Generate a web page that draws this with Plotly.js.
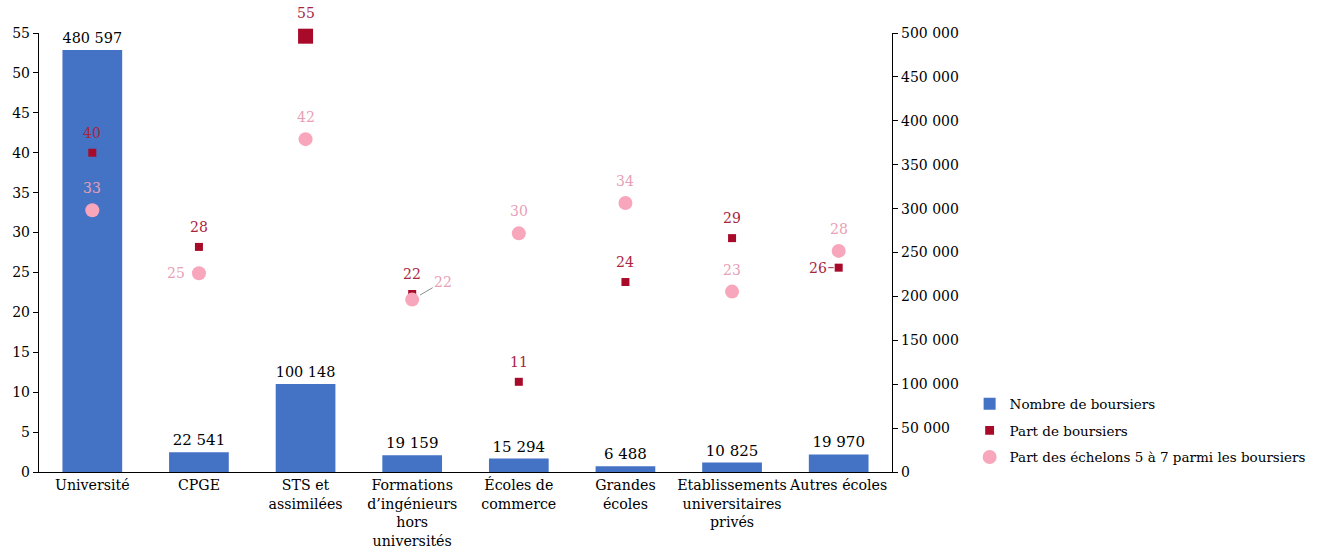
<!DOCTYPE html>
<html>
<head>
<meta charset="utf-8">
<script src="https://cdn.plot.ly/plotly-3.0.1.min.js"></script>
<style>
  html, body { margin: 0; padding: 0; background: #fff; }
  #chart { width: 1323px; height: 554px; }
</style>
</head>
<body>
<div id="chart"></div>
<script>
// Catégories de formation
const categories = [
  "Université", "CPGE", "STS et<br>assimilées",
  "Formations<br>d’ingénieurs<br>hors<br>universités",
  "Écoles de<br>commerce", "Grandes<br>écoles",
  "Etablissements<br>universitaires<br>privés", "Autres écoles"
];
// Nombre de boursiers (axe de droite)
const nombreBoursiers = [480597, 22541, 100148, 19159, 15294, 6488, 10825, 19970];
// Part de boursiers, en % (axe de gauche)
const partBoursiers = [40, 28.2, 54.6, 22.3, 11.3, 23.8, 29.3, 25.6];
// Part des échelons 5 à 7 parmi les boursiers, en % (axe de gauche)
const partEchelons = [32.8, 24.9, 41.7, 21.6, 29.9, 33.7, 22.6, 27.7];

const FONT = "DejaVu Serif, Liberation Serif, serif";
const FS = 14;
const BLUE = "#4472C4";
const RED = "#A80A2A";
const RED_TXT = "#A8243F";
const PINK = "#F8A6BC";
const PINK_TXT = "#E8A0B4";

const fmt = v => Math.round(v).toString();
const fmtInt = v => String(v).replace(/\B(?=(\d{3})+(?!\d))/g, " ");

const redSizes = partBoursiers.map((v, i) => i === 2 ? 15 : 8);

const traces = [
  {
    type: "bar", name: "Nombre de boursiers", legendgroup: "a",
    x: categories, y: nombreBoursiers, yaxis: "y",
    marker: { color: BLUE, line: { width: 0 } },
    width: 0.56,
    text: nombreBoursiers.map(fmtInt),
    textposition: "outside", cliponaxis: false,
    textfont: { family: FONT, size: 15, color: "#000" },
    hoverinfo: "skip"
  },
  {
    type: "scatter", mode: "markers", name: "Part de boursiers", legendgroup: "b",
    x: categories, y: partBoursiers, yaxis: "y2",
    marker: { symbol: "square", color: RED, size: redSizes, opacity: 1, line: { width: 0 } },
    cliponaxis: false, hoverinfo: "skip"
  },
  {
    type: "scatter", mode: "markers", name: "Part des échelons 5 à 7 parmi les boursiers", legendgroup: "c",
    x: categories, y: partEchelons, yaxis: "y2",
    marker: { symbol: "circle", color: PINK, size: 14, opacity: 1, line: { width: 0 } },
    cliponaxis: false, hoverinfo: "skip"
  }
];

// Placement des étiquettes de valeur (décalages en pixels)
const redPlace = [
  { dy: 20 }, { dy: 20 }, { dy: 23 }, { dy: 20 }, { dy: 20 }, { dy: 20 }, { dy: 20 },
  { arrow: true, ax: -21, ay: 0, standoff: 5 }
];
const pinkPlace = [
  { dy: 22 }, { dx: -23, dy: 0 }, { dy: 22 },
  { arrow: true, ax: 31, ay: -18, standoff: 9 },
  { dy: 22 }, { dy: 22 }, { dy: 22 }, { dy: 22 }
];

function labels(values, place, color, arrowColor) {
  return values.map((v, i) => {
    const p = place[i];
    const a = {
      x: categories[i], y: v, xref: "x", yref: "y2",
      text: fmt(v),
      font: { family: FONT, size: FS, color: color }
    };
    if (p.arrow) {
      Object.assign(a, {
        showarrow: true, arrowhead: 0, arrowwidth: 1, arrowcolor: arrowColor,
        ax: p.ax, ay: p.ay, standoff: p.standoff
      });
    } else {
      Object.assign(a, {
        showarrow: false, xanchor: "center", yanchor: "middle",
        xshift: p.dx || 0, yshift: p.dy || 0
      });
    }
    return a;
  });
}

const annotations = [
  ...labels(partBoursiers, redPlace, RED_TXT, RED_TXT),
  ...labels(partEchelons, pinkPlace, PINK_TXT, "#8c8c8c")
];

const layout = {
  width: 1323, height: 554,
  margin: { l: 39, r: 431, t: 33, b: 82, autoexpand: false },
  paper_bgcolor: "#fff", plot_bgcolor: "#fff",
  font: { family: FONT, size: FS, color: "#000" },
  separators: ", ",
  showlegend: true,
  legend: {
    x: 1.091, y: 0.19, xanchor: "left", yanchor: "top",
    font: { family: FONT, size: 13.5, color: "#000" },
    traceorder: "grouped", tracegroupgap: 6, itemwidth: 30
  },
  bargap: 0.44,
  xaxis: {
    type: "category",
    showline: true, linecolor: "#000", linewidth: 1.2,
    ticks: "", showgrid: false, zeroline: false,
    tickfont: { family: FONT, size: 14.2, color: "#000" },
    tickangle: 0
  },
  yaxis: {
    side: "right", range: [0, 500000], dtick: 50000, tick0: 0,
    tickformat: ",d",
    showline: true, linecolor: "#000", linewidth: 1.2,
    ticks: "outside", ticklen: 5, tickcolor: "#000",
    showgrid: false, zeroline: false,
    tickfont: { family: FONT, size: FS, color: "#000" }
  },
  yaxis2: {
    side: "left", overlaying: "y", range: [0, 55], dtick: 5, tick0: 0,
    showline: true, linecolor: "#000", linewidth: 1.2,
    ticks: "outside", ticklen: 5, tickcolor: "#000",
    showgrid: false, zeroline: false,
    tickfont: { family: FONT, size: FS, color: "#000" }
  },
  annotations: annotations
};

Plotly.newPlot("chart", traces, layout, { staticPlot: true, displayModeBar: false });
</script>
</body>
</html>
